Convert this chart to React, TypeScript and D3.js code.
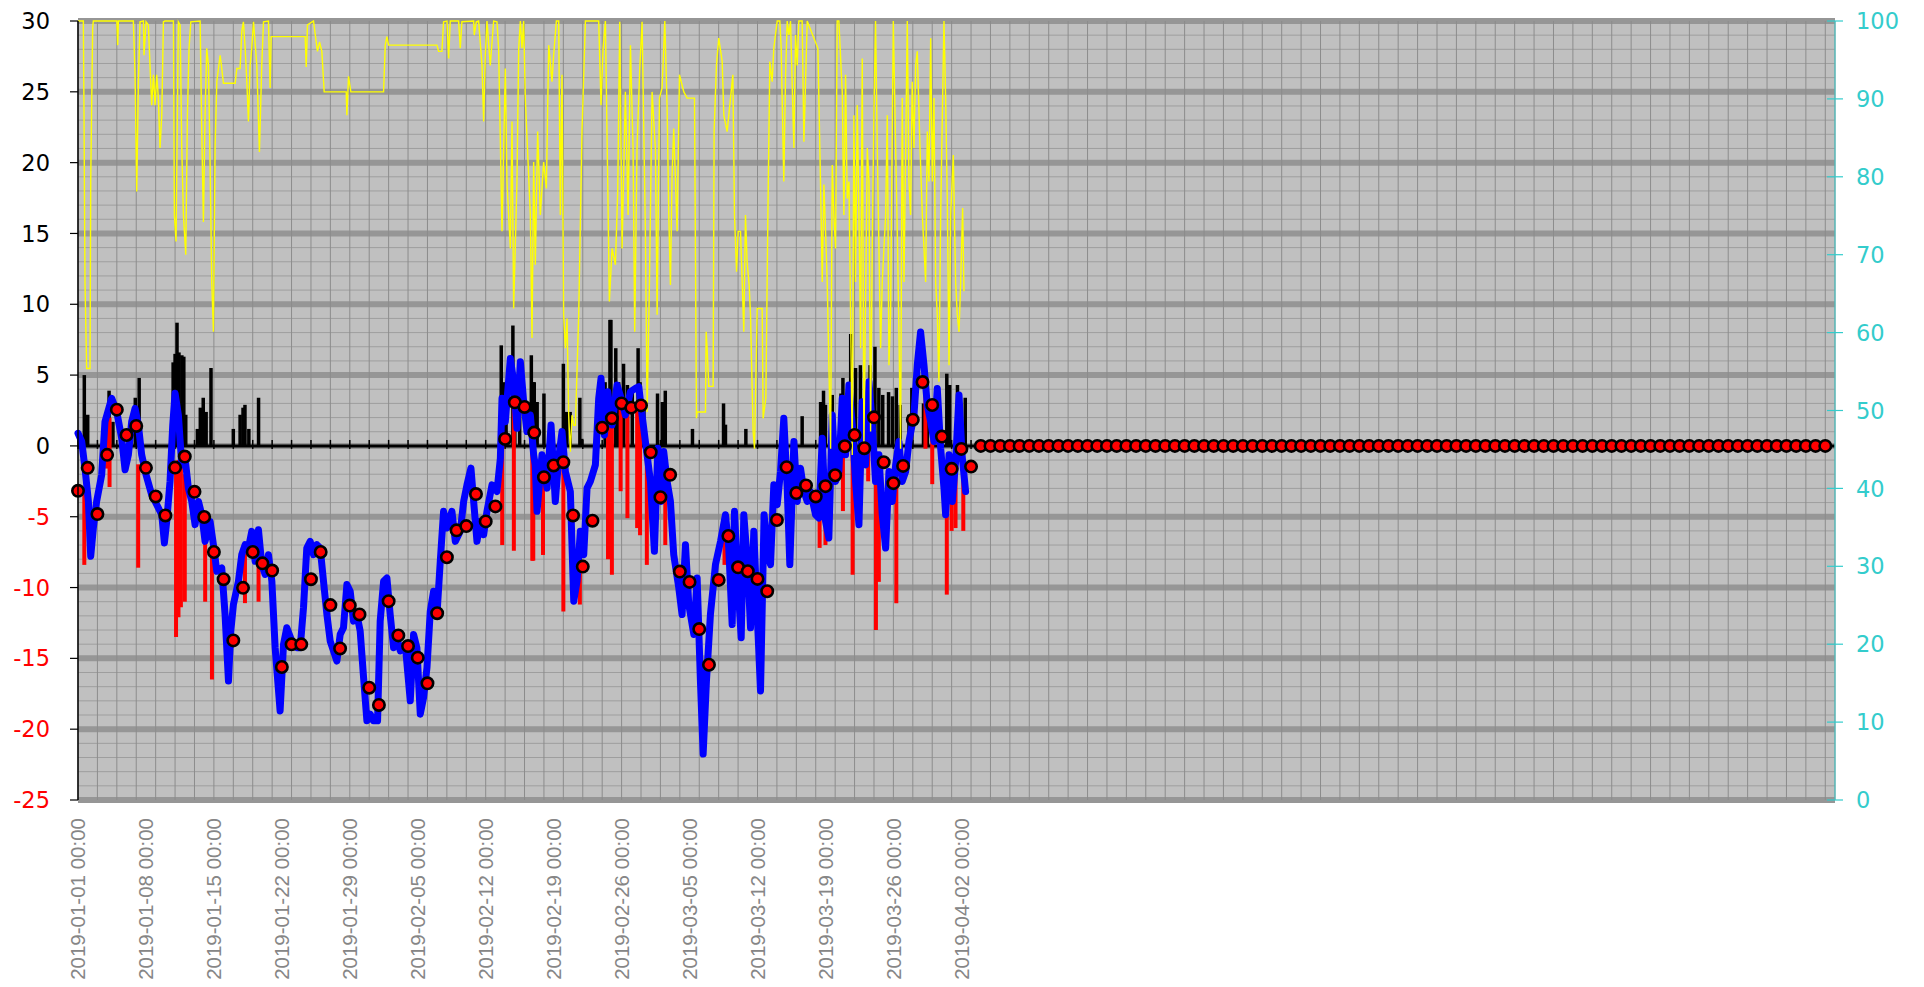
import React from "react";
import * as d3 from "d3";

const W = 1924;
const H = 987;
const DAY_MS = 86400000;
const START = Date.UTC(2019, 0, 1);
const END = Date.UTC(2019, 6, 1);

const xTickLabels = [
  "2019-01-01 00:00", "2019-01-08 00:00", "2019-01-15 00:00", "2019-01-22 00:00",
  "2019-01-29 00:00", "2019-02-05 00:00", "2019-02-12 00:00", "2019-02-19 00:00",
  "2019-02-26 00:00", "2019-03-05 00:00", "2019-03-12 00:00", "2019-03-19 00:00",
  "2019-03-26 00:00", "2019-04-02 00:00",
];
const leftTicks = [30, 25, 20, 15, 10, 5, 0, -5, -10, -15, -20, -25];
const rightTicks = [0, 10, 20, 30, 40, 50, 60, 70, 80, 90, 100];

// daily mean temperature (red dots), day 0 = 2019-01-01
const dailyMean = [
  -3.17, -1.55, -4.81, -0.63, 2.56, 0.77, 1.41, -1.55, -3.57, -4.91,
  -1.53, -0.75, -3.24, -5.02, -7.49, -9.41, -13.73, -10.02, -7.49, -8.29,
  -8.8, -15.61, -14.01, -14.01, -9.41, -7.49, -11.24, -14.3, -11.27, -11.9,
  -17.07, -18.29, -10.96, -13.38, -14.13, -14.95, -16.76, -11.81, -7.86, -5.96,
  -5.66, -3.4, -5.33, -4.27, 0.49, 3.08, 2.75, 0.94, -2.21, -1.38,
  -1.15, -4.91, -8.52, -5.28, 1.29, 1.95, 3.0, 2.7, 2.86, -0.45,
  -3.62, -2.04, -8.87, -9.6, -12.93, -15.45, -9.46, -6.36, -8.57, -8.85,
  -9.39, -10.26, -5.23, -1.5, -3.33, -2.79, -3.57, -2.84, -2.07, -0.02,
  0.77, -0.16, 2.02, -1.15, -2.63, -1.41, 1.85, 4.51, 2.89, 0.66,
  -1.62, -0.21, -1.46,
];
// days 93 .. 180 (no data, plotted as 0)
const dailyMeanTail = [
  0, 0, 0, 0, 0, 0, 0, 0, 0, 0, 0, 0, 0, 0, 0, 0, 0, 0, 0, 0, 0, 0,
  0, 0, 0, 0, 0, 0, 0, 0, 0, 0, 0, 0, 0, 0, 0, 0, 0, 0, 0, 0, 0, 0,
  0, 0, 0, 0, 0, 0, 0, 0, 0, 0, 0, 0, 0, 0, 0, 0, 0, 0, 0, 0, 0, 0,
  0, 0, 0, 0, 0, 0, 0, 0, 0, 0, 0, 0, 0, 0, 0, 0, 0, 0, 0, 0, 0, 0,
];

// temperature (blue) [day, °C]
const temperature: [number, number][] = [
  [0.0, 0.89], [0.38, 0.31], [0.72, -1.57], [1.07, -3.92], [1.31, -7.79], [1.58, -5.8], [1.92, -3.92],
  [2.44, -2.04], [2.78, 1.71], [3.47, 3.36], [3.99, 2.42], [4.5, 0.54], [4.85, -1.69], [5.19, -0.63],
  [5.53, 1.71], [5.88, 2.65], [6.22, 1.48], [6.56, -0.63], [7.01, -2.04], [7.59, -3.45], [8.11, -4.15],
  [8.63, -4.86], [8.9, -6.85], [9.14, -5.33], [9.48, -2.51], [9.76, 1.48], [10.0, 3.71], [10.34, 2.18],
  [10.69, -1.34], [11.03, -0.87], [11.37, -2.98], [11.72, -3.92], [12.06, -5.56], [12.41, -3.92],
  [12.75, -4.86], [13.09, -6.74], [13.61, -5.33], [13.95, -6.97], [14.3, -8.85], [14.81, -8.62],
  [15.15, -11.9], [15.5, -16.6], [15.74, -13.08], [16.01, -11.2], [16.53, -9.55], [16.87, -7.68],
  [17.22, -6.97], [17.56, -7.21], [17.9, -6.03], [18.25, -8.15], [18.59, -5.92], [18.93, -8.38],
  [19.28, -9.08], [19.62, -7.68], [19.97, -9.55], [20.31, -14.25], [20.82, -18.71], [21.17, -14.01],
  [21.51, -12.84], [22.03, -13.78], [22.54, -14.25], [22.89, -14.25], [23.23, -11.43], [23.57, -7.21],
  [23.92, -6.74], [24.26, -7.68], [24.6, -6.97], [24.95, -7.21], [25.29, -9.55], [25.64, -11.9],
  [25.98, -13.78], [26.32, -14.48], [26.67, -15.19], [27.01, -13.31], [27.35, -12.84], [27.7, -9.79],
  [28.04, -10.26], [28.38, -12.37], [28.73, -11.9], [29.07, -13.08], [29.42, -16.36], [29.76, -19.41],
  [30.1, -18.94], [30.45, -19.41], [30.86, -19.41], [31.13, -12.37], [31.48, -9.55], [31.82, -9.32],
  [32.16, -11.9], [32.51, -14.25], [32.85, -13.54], [33.2, -14.48], [33.71, -14.01], [34.23, -18.0],
  [34.57, -13.31], [34.91, -14.25], [35.26, -18.94], [35.6, -17.77], [35.95, -15.66], [36.29, -11.67],
  [36.63, -10.26], [36.98, -11.9], [37.32, -8.15], [37.66, -4.62], [38.01, -5.8], [38.52, -4.62],
  [38.87, -6.74], [39.38, -6.03], [39.73, -3.92], [40.07, -2.75], [40.48, -1.57], [40.76, -3.92],
  [41.1, -6.74], [41.44, -5.33], [41.79, -6.27], [42.13, -4.62], [42.65, -2.75], [43.16, -3.22],
  [43.51, -0.87], [43.68, 3.36], [44.02, 1.71], [44.54, 6.17], [44.88, 4.53], [45.22, 1.24],
  [45.57, 5.94], [45.91, 3.12], [46.25, 1.01], [46.6, 2.18], [46.94, -0.63], [47.1, -1.34],
  [47.29, -4.62], [47.8, -0.63], [48.32, -2.98], [48.73, 1.48], [49.17, -3.92], [49.52, -0.87],
  [49.86, 1.01], [50.21, -1.81], [50.72, -3.22], [51.07, -10.96], [51.41, -9.55], [51.75, -6.03],
  [52.1, -7.68], [52.44, -2.98], [52.78, -2.51], [53.3, -1.34], [53.64, 3.36], [53.88, 4.77],
  [54.23, 0.77], [54.57, 3.83], [55.02, 1.48], [55.53, 4.3], [55.95, 3.36], [56.39, 2.18],
  [56.91, 3.83], [57.42, 4.06], [57.77, 4.18], [58.11, 2.18], [58.45, 0.31], [58.97, -2.51],
  [59.38, -7.44], [59.73, -0.16], [60.07, -3.92], [60.34, -0.4], [60.69, -2.51], [61.03, -3.92],
  [61.37, -7.68], [61.89, -10.02], [62.23, -11.9], [62.58, -6.97], [62.92, -11.2], [63.44, -13.31],
  [63.78, -9.32], [64.12, -16.6], [64.4, -21.76], [64.74, -16.6], [65.15, -11.9], [65.67, -8.38],
  [66.19, -6.74], [66.7, -4.86], [67.04, -7.21], [67.39, -12.61], [67.63, -4.62], [67.97, -9.55],
  [68.32, -13.54], [68.59, -4.86], [69.0, -8.62], [69.28, -12.84], [69.62, -6.03], [69.97, -11.9],
  [70.31, -17.3], [70.68, -4.86], [71.07, -7.68], [71.34, -8.38], [71.68, -2.75], [72.03, -4.15],
  [72.37, -1.81], [72.71, 1.95], [73.06, -2.98], [73.33, -8.38], [73.75, 0.31], [74.09, -3.92],
  [74.43, -1.57], [74.78, -3.22], [75.12, -3.92], [75.46, -3.22], [75.98, -4.86], [76.32, -5.09],
  [76.67, 0.54], [77.01, -5.33], [77.35, -6.5], [77.7, 2.18], [78.04, -2.51], [78.38, -1.81],
  [78.73, 3.36], [79.07, -0.63], [79.42, 4.3], [79.76, 1.48], [80.1, -2.51], [80.45, -5.56],
  [80.79, 3.12], [81.13, -1.34], [81.48, 4.53], [81.82, 1.48], [82.16, -2.51], [82.51, -0.63],
  [82.85, -4.86], [83.2, -7.21], [83.54, -1.81], [83.88, -3.92], [84.23, -1.34], [84.57, 0.31],
  [84.91, -2.51], [85.26, -1.81], [85.6, 0.31], [86.12, 2.18], [86.46, 5.7], [86.8, 8.05],
  [87.15, 5.7], [87.49, 2.89], [87.84, 1.71], [88.18, 0.31], [88.52, 4.06], [88.87, -0.16],
  [89.21, -2.98], [89.38, -4.86], [89.73, -0.63], [90.07, -3.92], [90.41, -1.1], [90.76, 3.59],
  [91.07, -0.63], [91.44, -3.22],
];

// second temperature (red), visible as dips below the blue line: [day, upper °C, lower °C]
const temperatureDips: [number, number, number][] = [
  [0.65, -3.0, -8.4], [3.0, 1.0, -1.6], [3.25, 2.0, -2.9], [6.2, -1.3, -8.6], [10.1, -1.8, -13.5],
  [10.35, -1.0, -12.1], [10.6, -1.5, -11.4], [11.0, -2.0, -11.0], [13.1, -6.0, -11.0], [13.8, -6.5, -16.5],
  [17.2, -7.0, -11.1], [18.6, -6.0, -11.0], [43.7, 0.0, -7.0], [44.9, 3.0, -7.4], [46.8, 1.0, -8.1],
  [46.9, -1.0, -8.1], [47.9, -1.0, -7.7], [50.0, 0.0, -11.7], [51.7, -6.0, -11.2], [54.6, 2.5, -8.0],
  [55.0, 2.0, -9.1], [55.9, 3.0, -3.2], [56.6, 2.5, -5.1], [57.6, 3.0, -5.8], [57.9, 3.0, -6.3],
  [58.6, 0.0, -8.4], [60.5, -1.0, -7.0], [66.6, -5.0, -8.4], [76.4, -4.0, -7.2], [77.0, -5.0, -7.0],
  [78.8, 2.0, -4.6], [79.8, 1.5, -9.1], [80.6, 1.0, -3.9], [81.4, 2.0, -2.5], [82.2, -1.0, -13.0],
  [82.5, -1.0, -9.6], [84.3, -1.5, -11.1], [87.3, 4.0, -0.2], [88.0, 1.5, -2.7], [89.5, -2.0, -10.5],
  [90.0, -3.0, -6.0], [90.4, -2.0, -5.8], [91.2, -1.0, -6.0],
];

// black bars [day, value]
const precipitation: [number, number][] = [
  [0.65, 5.0], [1.0, 2.2], [3.2, 3.9], [3.6, 1.7], [5.9, 3.4], [6.3, 4.8], [9.8, 5.9], [10.0, 6.5],
  [10.2, 8.7], [10.4, 6.6], [10.7, 6.4], [10.9, 6.3], [11.1, 2.2], [12.3, 1.2], [12.6, 2.7], [12.9, 3.4],
  [13.2, 2.4], [13.7, 5.5], [16.0, 1.2], [16.7, 2.2], [17.0, 2.7], [17.2, 2.9], [17.6, 1.2], [18.6, 3.4],
  [43.6, 7.1], [43.9, 4.5], [44.1, 3.8], [44.8, 8.5], [45.0, 5.0], [45.5, 3.8], [46.7, 6.4], [46.9, 4.5],
  [47.0, 4.5], [47.3, 3.1], [48.0, 3.7], [50.0, 5.8], [50.3, 2.4], [50.7, 2.4], [51.7, 3.4], [51.9, 0.5],
  [54.3, 4.5], [54.8, 8.9], [54.9, 8.9], [55.4, 6.9], [55.7, 4.5], [56.2, 5.8], [56.6, 4.3], [57.1, 3.8],
  [57.7, 6.9], [57.9, 4.5], [58.3, 2.7], [59.7, 3.7], [60.2, 3.1], [60.5, 3.9], [63.3, 1.2], [66.5, 3.0],
  [66.7, 1.5], [68.8, 1.2], [74.6, 2.1], [76.5, 3.1], [76.8, 3.9], [77.0, 2.9], [77.7, 3.6], [78.6, 3.7],
  [78.8, 4.8], [79.4, 4.5], [79.6, 7.9], [80.1, 5.5], [80.6, 5.7], [81.1, 3.8], [81.6, 5.7], [82.1, 7.0],
  [82.5, 4.1], [82.9, 3.6], [83.5, 3.8], [83.9, 3.5], [84.3, 4.1], [84.7, 2.9], [85.6, 2.2], [85.9, 4.1],
  [87.1, 3.0], [87.5, 2.2], [89.5, 5.1], [89.8, 4.3], [90.6, 4.3], [91.4, 3.4],
];

// relative humidity (yellow, right axis) [day, %]
const humidity: [number, number][] = [
  [0, 100], [0.55, 100], [0.62, 87.9], [0.72, 66.5], [0.89, 55.4], [1.24, 55.4], [1.31, 79.4], [1.51, 99.1],
  [1.58, 100], [4.0, 100], [4.09, 96.9], [4.16, 100], [5.7, 100], [5.88, 93.1], [6.05, 78.1], [6.22, 92.2],
  [6.39, 99.9], [6.74, 100], [6.8, 95.6], [7.01, 99.9], [7.25, 99.5], [7.42, 94.3], [7.59, 89.2], [7.77, 93.1],
  [7.94, 89.2], [8.11, 93.1], [8.28, 90.1], [8.45, 83.7], [8.63, 87.9], [8.8, 99.9], [8.97, 100], [9.83, 100],
  [9.93, 75.1], [10.1, 71.7], [10.24, 88.4], [10.34, 99.9], [10.52, 99.5], [10.69, 83.7], [10.86, 75.1],
  [11.1, 70.0], [11.27, 87.9], [11.44, 96.5], [11.62, 99.9], [12.58, 100], [12.75, 85.8], [12.92, 74.2],
  [13.09, 87.9], [13.26, 96.5], [13.44, 94.3], [13.61, 81.5], [13.78, 66.5], [13.95, 60.1], [14.12, 83.7],
  [14.3, 92.2], [14.64, 95.6], [14.81, 93.9], [14.98, 92.0], [16.19, 92.0], [16.36, 93.9], [16.7, 93.9],
  [16.87, 98.6], [17.04, 99.9], [17.22, 96.5], [17.39, 92.2], [17.56, 87.1], [17.73, 94.3], [17.9, 96.5],
  [18.08, 99.9], [18.42, 94.3], [18.69, 83.2], [18.93, 94.3], [19.11, 99.9], [19.62, 100], [19.79, 91.4],
  [19.9, 98.0], [20.14, 98.0], [23.4, 98.0], [23.51, 94.1], [23.64, 99.5], [24.26, 100], [24.54, 97.3],
  [24.67, 96.1], [24.88, 97.3], [25.12, 96.1], [25.36, 90.9], [27.63, 90.9], [27.7, 87.9], [27.87, 92.9],
  [28.11, 90.9], [31.48, 90.9], [31.65, 96.9], [31.82, 98.0], [31.99, 96.9], [36.98, 96.9], [37.15, 96.1],
  [37.49, 96.1], [37.66, 99.9], [38.01, 100], [38.18, 95.2], [38.35, 100], [39.21, 100], [39.38, 96.5],
  [39.55, 99.9], [40.76, 100], [40.82, 98.2], [41.03, 99.9], [41.27, 100], [41.62, 94.3], [41.79, 87.1],
  [41.96, 95.6], [42.13, 100], [42.47, 94.3], [42.82, 100], [43.16, 99.9], [43.33, 96.5], [43.68, 73.0],
  [44.02, 93.9], [44.19, 79.4], [44.54, 70.8], [44.71, 87.1], [44.88, 63.1], [45.22, 79.4], [45.4, 96.5],
  [45.57, 100], [45.74, 96.5], [45.91, 100], [46.08, 90.1], [46.6, 75.1], [46.77, 59.3], [46.94, 81.9],
  [47.11, 68.7], [47.35, 85.8], [47.63, 75.1], [47.97, 81.9], [48.25, 78.5], [48.49, 96.9], [48.83, 92.2],
  [49.0, 95.6], [49.28, 100], [49.52, 100], [49.69, 75.1], [49.86, 93.1], [50.03, 62.3], [50.21, 58.0],
  [50.38, 61.8], [50.55, 49.4], [50.72, 44.7], [50.89, 49.4], [51.07, 48.1], [51.24, 48.1], [51.58, 62.3],
  [51.92, 85.8], [52.27, 100], [53.64, 100], [53.88, 89.2], [54.09, 96.5], [54.33, 100], [54.57, 79.4],
  [54.74, 64.0], [55.02, 70.8], [55.36, 68.7], [55.6, 78.1], [55.81, 99.9], [56.05, 70.8], [56.39, 90.9],
  [56.67, 75.1], [56.91, 96.9], [57.18, 83.7], [57.35, 60.1], [57.59, 83.7], [57.87, 93.9], [58.11, 99.9],
  [58.45, 73.0], [58.63, 49.8], [58.87, 66.5], [59.14, 90.9], [59.48, 83.7], [59.66, 62.3], [59.9, 90.1],
  [60.17, 91.4], [60.45, 100], [60.69, 88.8], [60.86, 75.1], [61.03, 66.1], [61.2, 80.2], [61.37, 86.2],
  [61.72, 73.0], [61.96, 93.1], [62.41, 90.9], [62.75, 90.1], [63.09, 90.1], [63.51, 90.1], [63.71, 49.0],
  [63.78, 49.8], [64.64, 49.8], [64.71, 60.1], [64.81, 58.0], [64.98, 53.1], [65.43, 53.1], [65.53, 85.8],
  [65.77, 94.3], [66.01, 97.8], [66.36, 94.8], [66.53, 87.9], [66.87, 85.8], [67.22, 90.1], [67.46, 93.1],
  [67.63, 75.1], [67.84, 67.8], [68.01, 73.0], [68.25, 73.0], [68.59, 60.1], [68.76, 75.1], [68.93, 69.1],
  [69.14, 66.1], [69.28, 62.3], [69.55, 47.3], [69.69, 45.1], [69.97, 63.1], [70.48, 63.1], [70.58, 49.0],
  [70.86, 51.6], [71.07, 75.1], [71.27, 94.8], [71.51, 92.2], [71.68, 96.5], [72.03, 100], [72.3, 100],
  [72.44, 96.5], [72.71, 79.4], [72.89, 93.1], [73.06, 100], [73.23, 98.2], [73.4, 100], [73.75, 83.7],
  [73.92, 98.2], [74.09, 94.3], [74.26, 100], [74.6, 100], [74.78, 84.5], [75.12, 100], [76.22, 96.5],
  [76.49, 79.4], [76.67, 66.5], [76.84, 79.0], [77.01, 73.0], [77.18, 66.5], [77.53, 45.1], [77.7, 81.5],
  [77.87, 75.1], [78.04, 70.8], [78.21, 100], [78.38, 100], [78.73, 90.9], [78.9, 75.1], [79.07, 93.1],
  [79.24, 77.2], [79.42, 79.4], [79.59, 62.3], [79.76, 44.3], [79.93, 87.9], [80.1, 66.5], [80.27, 89.2],
  [80.45, 75.1], [80.62, 58.0], [80.79, 95.2], [80.96, 45.1], [81.31, 83.7], [81.48, 79.4], [81.65, 47.3],
  [81.82, 70.8], [81.99, 87.9], [82.16, 100], [82.34, 83.7], [82.51, 70.8], [82.68, 58.0], [82.85, 66.5],
  [83.2, 75.1], [83.37, 87.9], [83.54, 55.8], [83.71, 62.3], [83.99, 100], [84.23, 83.7], [84.4, 73.0],
  [84.57, 60.1], [84.74, 45.1], [84.91, 90.1], [85.09, 66.5], [85.43, 100], [85.6, 79.4], [85.77, 75.1],
  [85.94, 92.2], [86.12, 83.7], [86.29, 94.3], [86.46, 96.1], [86.74, 83.7], [86.98, 75.1], [87.32, 66.5],
  [87.49, 85.8], [87.66, 79.4], [87.84, 97.8], [88.01, 79.4], [88.18, 90.1], [88.35, 66.5], [88.52, 62.3],
  [88.69, 53.7], [88.87, 75.1], [89.04, 87.9], [89.21, 100], [89.38, 90.1], [89.55, 77.2], [89.73, 55.8],
  [89.9, 75.1], [90.17, 82.8], [90.41, 66.5], [90.58, 62.3], [90.76, 60.1], [90.93, 66.5], [91.13, 76.0],
  [91.27, 65.3],
];

const FONT = "'Liberation Sans', Arial, Helvetica, sans-serif";
const AXIS_FONT = "'DejaVu Sans', Verdana, sans-serif";

export default function App() {
  const x = d3.scaleUtc().domain([new Date(START), new Date(END)]).range([78, 1835]);
  const xd = (d: number) => x(new Date(START + d * DAY_MS));
  const yL = d3.scaleLinear().domain([-25, 30]).range([800, 21]);
  const yR = d3.scaleLinear().domain([0, 100]).range([800, 21]);
  const parse = d3.utcParse("%Y-%m-%d %H:%M");

  const tempLine = d3.line<[number, number]>().x((d) => xd(d[0])).y((d) => yL(d[1]));
  const humLine = d3.line<[number, number]>().x((d) => xd(d[0])).y((d) => yR(d[1]));

  const gridDays = d3.range(0, 181, 2);
  const gridVals = d3.range(-25, 31, 1);
  const means = [...dailyMean, ...dailyMeanTail];
  const [x0, x1] = x.range();
  const y0 = yL(0);

  return (
    <svg
      width={W}
      height={H}
      style={{ position: "absolute", left: 0, top: 0, display: "block", background: "#ffffff" }}
    >
      <rect x={x0} y={21} width={x1 - x0} height={779} fill="#c0c0c0" />
      {gridVals
        .filter((v) => v % 5 !== 0)
        .map((v) => (
          <line key={"mh" + v} x1={x0} x2={x1} y1={yL(v)} y2={yL(v)} stroke="#9e9e9e" strokeWidth={1} />
        ))}
      {gridVals
        .filter((v) => v % 5 === 0)
        .map((v) => (
          <line key={"Mh" + v} x1={x0} x2={x1} y1={yL(v)} y2={yL(v)} stroke="#969696" strokeWidth={6} />
        ))}
      {gridDays.map((d) => (
        <line key={"v" + d} x1={xd(d)} x2={xd(d)} y1={21} y2={800} stroke="#8c8c8c" strokeWidth={1} />
      ))}

      <line x1={x0} x2={x1} y1={y0} y2={y0} stroke="#000" strokeWidth={3} />
      {gridDays.map((d) => (
        <line key={"t" + d} x1={xd(d)} x2={xd(d)} y1={y0 - 6} y2={y0 + 3} stroke="#000" strokeWidth={1.5} />
      ))}

      {precipitation.map(([d, v], i) => (
        <line key={"p" + i} x1={xd(d)} x2={xd(d)} y1={y0} y2={yL(v)} stroke="#000" strokeWidth={3.5} />
      ))}

      {temperatureDips.map(([d, a, b], i) => (
        <line key={"r" + i} x1={xd(d)} x2={xd(d)} y1={yL(a)} y2={yL(b)} stroke="#ff0000" strokeWidth={4} />
      ))}

      <path
        d={tempLine(temperature) || ""}
        fill="none"
        stroke="#0000ff"
        strokeWidth={7}
        strokeLinejoin="round"
        strokeLinecap="round"
      />

      <path d={humLine(humidity) || ""} fill="none" stroke="#ffff00" strokeWidth={1.4} />

      {means.map((v, i) => (
        <circle key={"c" + i} cx={xd(i)} cy={yL(v)} r={5.7} fill="#ff0000" stroke="#000" strokeWidth={2.6} />
      ))}

      <line x1={x0} x2={x0} y1={21} y2={800} stroke="#000" strokeWidth={1.5} />
      {leftTicks.map((v) => (
        <g key={"l" + v}>
          <line x1={70} x2={x0} y1={yL(v)} y2={yL(v)} stroke="#000" strokeWidth={1.2} />
          <text
            x={50}
            y={yL(v)}
            dy="0.36em"
            textAnchor="end"
            fontFamily={AXIS_FONT}
            fontSize={22.5}
            fill={v < 0 ? "#ff0000" : "#000000"}
          >
            {v}
          </text>
        </g>
      ))}

      <line x1={x1} x2={x1} y1={21} y2={800} stroke="#55b5b5" strokeWidth={1.5} />
      {rightTicks.map((v) => (
        <g key={"r" + v}>
          <line x1={x1 - 8} x2={x1 + 8} y1={yR(v)} y2={yR(v)} stroke="#33cccc" strokeWidth={1.2} />
          <text x={1856} y={yR(v)} dy="0.36em" textAnchor="start" fontFamily={AXIS_FONT} fontSize={22.5} fill="#33cccc">
            {v}
          </text>
        </g>
      ))}

      {xTickLabels.map((lab) => {
        const tx = x(parse(lab) as Date);
        return (
          <text
            key={lab}
            transform={`translate(${tx},818) rotate(-90)`}
            dy="0.36em"
            textAnchor="end"
            fontFamily={FONT}
            fontSize={20.5}
            fill="#868686"
          >
            {lab}
          </text>
        );
      })}
    </svg>
  );
}
